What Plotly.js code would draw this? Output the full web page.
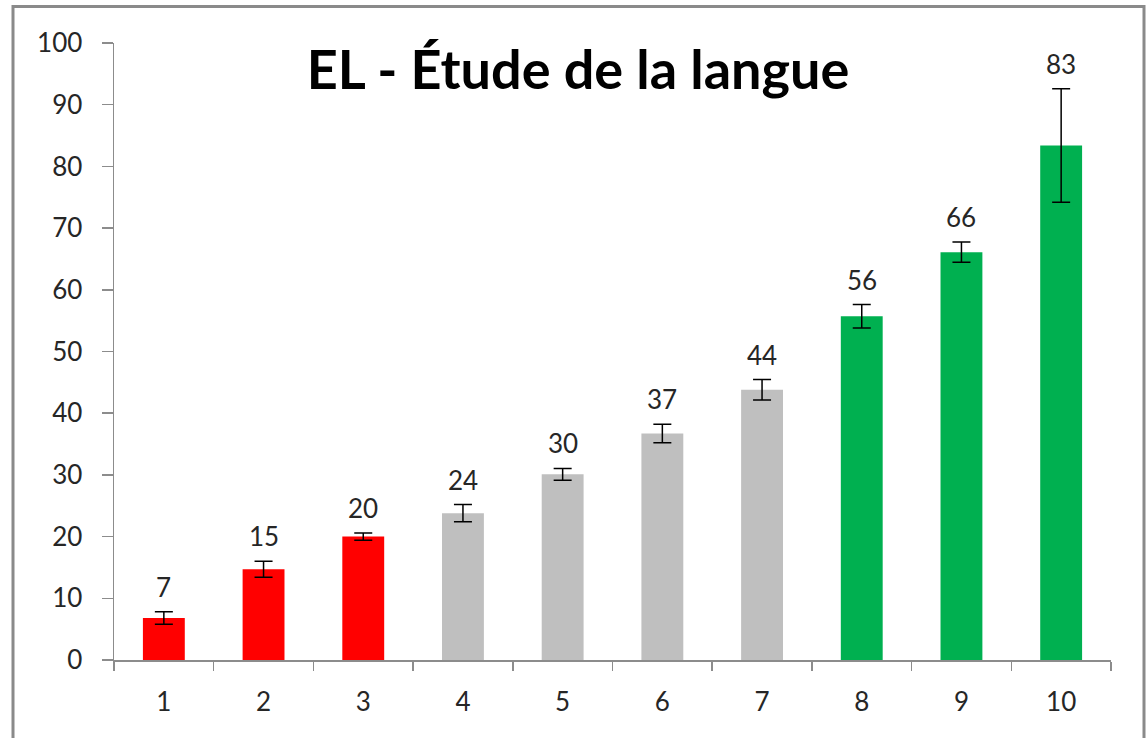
<!DOCTYPE html>
<html>
<head>
<meta charset="utf-8">
<script src="https://cdn.plot.ly/plotly-3.0.1.min.js"></script>
<style>
  html, body { margin: 0; padding: 0; background: #fff; }
  #chart { width: 1148px; height: 738px; }
</style>
</head>
<body>
<div id="chart"></div>
<script>
// ---- data ----
const categories = ["1", "2", "3", "4", "5", "6", "7", "8", "9", "10"];
const values     = [6.8, 14.7, 20.0, 23.8, 30.1, 36.7, 43.8, 55.7, 66.1, 83.4];
const errors     = [1.0, 1.3, 0.6, 1.4, 0.95, 1.5, 1.65, 1.9, 1.65, 9.2];
const colors     = ["#FF0000", "#FF0000", "#FF0000", "#BFBFBF", "#BFBFBF", "#BFBFBF", "#BFBFBF", "#00B050", "#00B050", "#00B050"];
const titleText  = "EL - Étude de la langue";
const yTicks     = [0, 10, 20, 30, 40, 50, 60, 70, 80, 90, 100];

const FONT = "Lato, 'Open Sans', sans-serif";

const trace = {
  type: "bar",
  x: categories,
  y: values,
  marker: { color: colors, line: { width: 0 } },
  error_y: { type: "data", array: errors, visible: true, color: "#000000", thickness: 1.5, width: 9 },
  hoverinfo: "x+y"
};

// on a category axis, annotation x is the category's serial index
const annotations = categories.map((c, i) => ({
  x: i, y: values[i] + errors[i], xref: "x", yref: "y",
  text: String(Math.round(values[i])),
  showarrow: false, yanchor: "bottom", yshift: 7,
  font: { family: FONT, size: 26, color: "#262626" }
}));

const layout = {
  width: 1148, height: 738,
  margin: { l: 114, r: 37, t: 43, b: 78 },
  paper_bgcolor: "#ffffff", plot_bgcolor: "#ffffff",
  showlegend: false,
  bargap: 0.58,
  title: {
    text: titleText,
    font: { family: FONT, size: 54, color: "#000000", weight: "bold" },
    xref: "container", yref: "container",
    x: 578 / 1148, xanchor: "center",
    y: 1 - 70 / 738, yanchor: "middle"
  },
  xaxis: {
    type: "category",
    range: [-0.5, categories.length - 0.5],
    showgrid: false, zeroline: false,
    showline: true, linecolor: "#8C8C8C", linewidth: 1.5,
    ticks: "outside", tickson: "boundaries", ticklen: 9, tickwidth: 1.5, tickcolor: "#8C8C8C",
    tickfont: { family: FONT, size: 26, color: "#262626" },
    ticklabelstandoff: 18
  },
  yaxis: {
    range: [0, 100],
    tickvals: yTicks,
    showgrid: false, zeroline: false,
    showline: true, linecolor: "#8C8C8C", linewidth: 1.5,
    ticks: "outside", ticklen: 11, tickwidth: 1.5, tickcolor: "#8C8C8C",
    tickfont: { family: FONT, size: 26, color: "#262626" },
    ticklabelstandoff: 14
  },
  shapes: [{
    type: "rect", xref: "paper", yref: "paper",
    x0: (13 - 114) / 997, x1: (1144 - 114) / 997,
    y0: (660 - 760) / 617, y1: (660 - 6.5) / 617,
    line: { color: "#8A8A8A", width: 3 },
    fillcolor: "rgba(0,0,0,0)", layer: "above"
  }],
  annotations: annotations
};

Plotly.newPlot("chart", [trace], layout, { displayModeBar: false, staticPlot: true });
</script>
</body>
</html>
